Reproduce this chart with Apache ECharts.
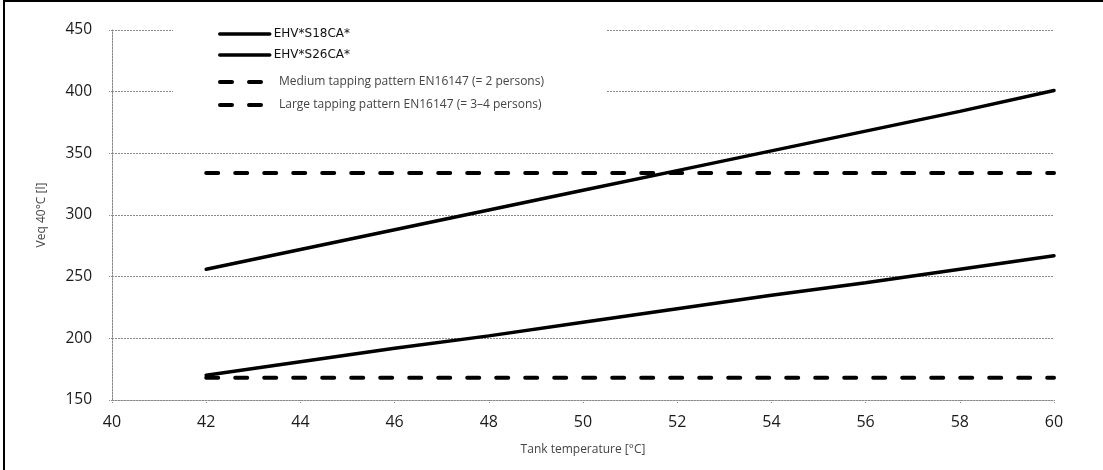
<!DOCTYPE html>
<html>
<head>
<meta charset="utf-8">
<script src="https://cdn.jsdelivr.net/npm/echarts@6/dist/echarts.min.js"></script>
<style>
  html, body { margin: 0; padding: 0; background: #fff; }
  #chart { width: 1103px; height: 470px; }
</style>
</head>
<body>
<div id="chart"></div>
<script>
// Tank temperature [°C] on the x axis
const temps = [42, 44, 46, 48, 50, 52, 54, 56, 58, 60];
// Equivalent 40 °C volume [l] per model
const s18 = [170, 181, 192, 202, 213, 224, 235, 245, 256, 267];
const s26 = [256, 272, 288, 304, 320, 336, 352, 368, 384, 401];
// Reference demand levels (EN16147 tapping patterns)
const mediumLevel = [168, 168];
const largeLevel = [334, 334];
const levelTemps = [42, 60];

const seriesNames = [
  'EHV*S18CA*',
  'EHV*S26CA*',
  'Medium tapping pattern EN16147 (= 2 persons)',
  'Large tapping pattern EN16147 (= 3–4 persons)'
];

const pair = (xs, ys) => xs.map((x, i) => [x, ys[i]]);

const grid = '#8a8a8a';
const font = '"Open Sans", "Noto Sans", sans-serif';

const chart = echarts.init(document.getElementById('chart'), null, { renderer: 'canvas' });

const solidLine = { color: '#000', width: 3.5, cap: 'round' };
const dashLine = { color: '#000', width: 4, type: [12, 17], cap: 'round' };

chart.setOption({
  animation: false,
  backgroundColor: '#fff',
  grid: { left: 112, right: 49, top: 30, bottom: 70 },
  xAxis: {
    type: 'value',
    min: 40, max: 60, interval: 2,
    name: 'Tank temperature [°C]',
    nameLocation: 'middle',
    nameGap: 44,
    nameTextStyle: { fontFamily: font, fontSize: 12, color: '#444' },
    axisLine: { show: true, lineStyle: { color: grid, width: 1, type: [2, 1] } },
    axisTick: { show: true, length: 4, lineStyle: { color: grid, type: [1, 1] } },
    axisLabel: { fontFamily: font, fontSize: 16, color: '#1a1a1a', margin: 14 },
    splitLine: { show: false }
  },
  yAxis: {
    type: 'value',
    min: 150, max: 450, interval: 50,
    name: 'Veq 40°C [l]',
    nameLocation: 'middle',
    nameGap: 64,
    nameRotate: 90,
    nameTextStyle: { fontFamily: font, fontSize: 12, color: '#444' },
    axisLine: { show: true, lineStyle: { color: grid, width: 1, type: [2, 1] } },
    axisTick: { show: true, length: 4, lineStyle: { color: grid, type: [1, 1] } },
    axisLabel: { fontFamily: font, fontSize: 15.5, color: '#1a1a1a', margin: 20 },
    splitLine: { show: true, lineStyle: { color: grid, width: 1, type: [2, 1] } }
  },
  legend: [
    {
      data: seriesNames.slice(0, 2),
      orient: 'vertical',
      left: 218, top: 28,
      padding: 0,
      itemWidth: 50, itemHeight: 14,
      itemGap: 9,
      itemStyle: { opacity: 0 },
      lineStyle: { width: 3.5, cap: 'round' },
      textStyle: { fontFamily: '"DejaVu Sans", sans-serif', fontSize: 12, color: '#111', padding: [0, 0, 0, -1] },
      selectedMode: false
    },
    {
      data: seriesNames.slice(2),
      orient: 'vertical',
      left: 218, top: 76,
      padding: 0,
      itemWidth: 46, itemHeight: 14,
      itemGap: 11,
      itemStyle: { opacity: 0 },
      lineStyle: { width: 4 },
      textStyle: { fontFamily: font, fontSize: 12, color: '#444', padding: [0, 0, 0, 8] },
      selectedMode: false
    }
  ],
  graphic: [
    // white panel behind the legend
    { type: 'rect', z: 1, shape: { x: 173, y: 18, width: 434, height: 108 }, style: { fill: '#fff' }, silent: true },
    // frame edges
    { type: 'line', z: 10, shape: { x1: 4, y1: 0, x2: 4, y2: 470 }, style: { stroke: '#000', lineWidth: 2 } },
    { type: 'line', z: 10, shape: { x1: 4, y1: 1, x2: 1103, y2: 1 }, style: { stroke: '#000', lineWidth: 2 } }
  ],
  series: [
    { name: seriesNames[0], type: 'line', data: pair(temps, s18), symbol: 'none', lineStyle: solidLine, itemStyle: { color: '#000' }, z: 3 },
    { name: seriesNames[1], type: 'line', data: pair(temps, s26), symbol: 'none', lineStyle: solidLine, itemStyle: { color: '#000' }, z: 3 },
    { name: seriesNames[2], type: 'line', data: pair(levelTemps, mediumLevel), symbol: 'none', lineStyle: dashLine, itemStyle: { color: '#000' }, z: 3 },
    { name: seriesNames[3], type: 'line', data: pair(levelTemps, largeLevel), symbol: 'none', lineStyle: dashLine, itemStyle: { color: '#000' }, z: 3 }
  ]
});
</script>
</body>
</html>
